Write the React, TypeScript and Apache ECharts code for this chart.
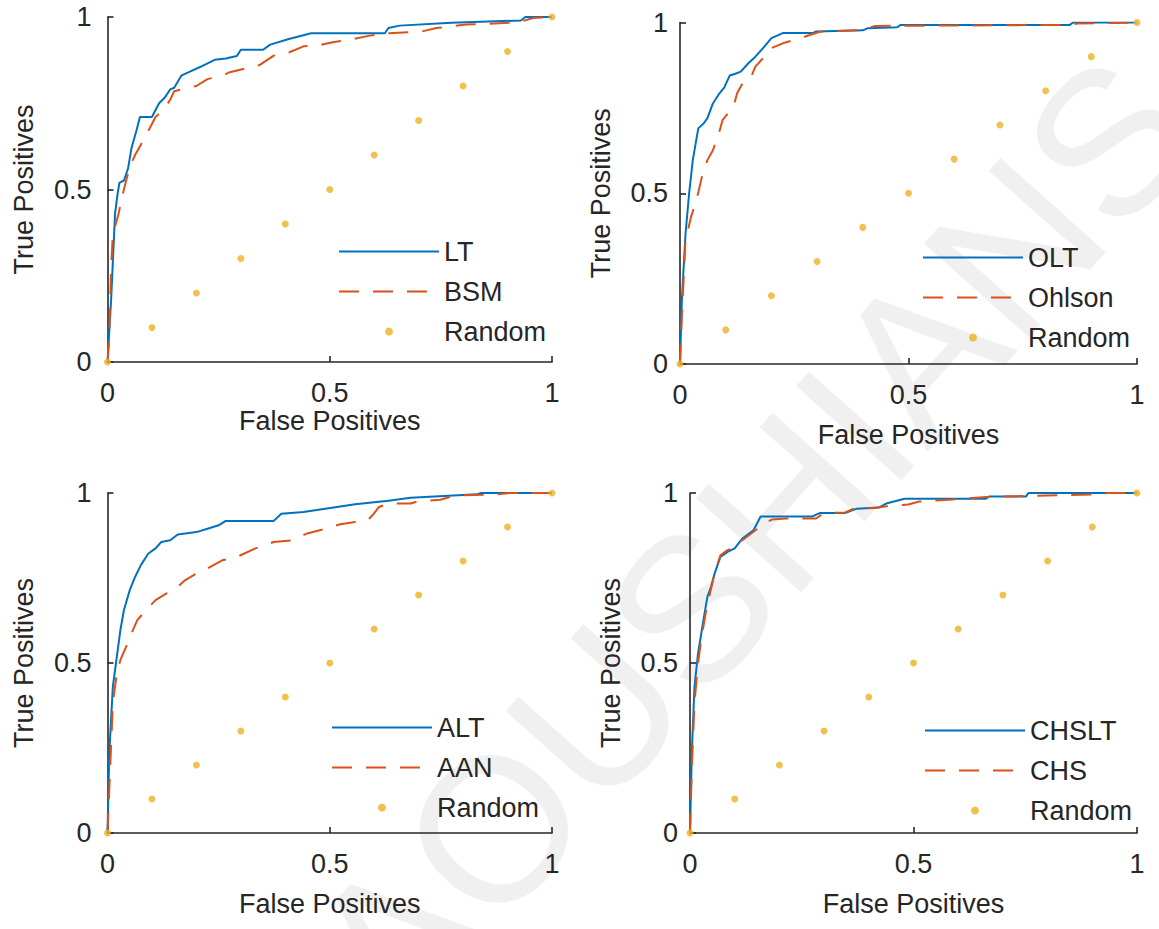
import React, { useEffect, useRef } from "react";
import * as echarts from "echarts";

// ---------- data ----------
const axisTicks = [0, 0.5, 1];
const xAxisTitle = "False Positives";
const yAxisTitle = "True Positives";
const watermarkText = "AOUSHIANS";

const randomPoints: [number, number][] = [
  [0, 0], [0.1, 0.1], [0.2, 0.2], [0.3, 0.3], [0.4, 0.4], [0.5, 0.5],
  [0.6, 0.6], [0.7, 0.7], [0.8, 0.8], [0.9, 0.9], [1, 1],
];

const ltCurve: [number, number][] = [
  [0, 0], [0.008, 0.177], [0.017, 0.43], [0.023, 0.49], [0.027, 0.52], [0.037, 0.526],
  [0.046, 0.56], [0.054, 0.62], [0.065, 0.67], [0.073, 0.71], [0.1, 0.71], [0.116, 0.75],
  [0.128, 0.765], [0.141, 0.79], [0.15, 0.795], [0.166, 0.83], [0.183, 0.84], [0.208, 0.855],
  [0.241, 0.876], [0.266, 0.88], [0.291, 0.887], [0.3, 0.905], [0.35, 0.905], [0.366, 0.92],
  [0.408, 0.936], [0.458, 0.953], [0.624, 0.953], [0.632, 0.968], [0.657, 0.975],
  [0.774, 0.983], [0.93, 0.99], [0.94, 1], [1, 1],
];
const bsmCurve: [number, number][] = [
  [0, 0], [0.004, 0.07], [0.008, 0.27], [0.012, 0.37], [0.025, 0.43], [0.033, 0.48],
  [0.042, 0.526], [0.05, 0.565], [0.062, 0.6], [0.075, 0.63], [0.092, 0.67], [0.108, 0.71],
  [0.125, 0.73], [0.141, 0.76], [0.15, 0.785], [0.166, 0.79], [0.2, 0.8], [0.225, 0.82],
  [0.258, 0.83], [0.275, 0.84], [0.308, 0.85], [0.341, 0.86], [0.374, 0.888], [0.408, 0.897],
  [0.441, 0.915], [0.483, 0.92], [0.507, 0.927], [0.549, 0.935], [0.59, 0.946], [0.632, 0.953],
  [0.707, 0.958], [0.74, 0.968], [0.807, 0.978], [0.923, 0.984], [0.957, 0.997], [1, 1],
];

const oltCurve: [number, number][] = [
  [0, 0], [0.004, 0.186], [0.012, 0.38], [0.02, 0.5], [0.028, 0.597], [0.04, 0.69],
  [0.052, 0.705], [0.06, 0.72], [0.072, 0.763], [0.085, 0.79], [0.097, 0.81], [0.109, 0.845],
  [0.121, 0.85], [0.133, 0.856], [0.149, 0.88], [0.165, 0.9], [0.185, 0.93], [0.2, 0.954],
  [0.225, 0.969], [0.29, 0.969], [0.298, 0.974], [0.4, 0.977], [0.41, 0.983], [0.475, 0.986],
  [0.483, 0.993], [0.853, 0.993], [0.86, 1], [1, 1],
];
const ohlsonCurve: [number, number][] = [
  [0, 0], [0.004, 0.137], [0.012, 0.362], [0.024, 0.43], [0.036, 0.48], [0.048, 0.548],
  [0.06, 0.597], [0.072, 0.626], [0.085, 0.675], [0.093, 0.714], [0.105, 0.734], [0.117, 0.753],
  [0.125, 0.793], [0.137, 0.822], [0.153, 0.832], [0.165, 0.871], [0.185, 0.9], [0.2, 0.925],
  [0.225, 0.939], [0.25, 0.949], [0.274, 0.959], [0.306, 0.973], [0.394, 0.978], [0.427, 0.99],
  [0.845, 0.993], [0.87, 0.997], [1, 1],
];

const altCurve: [number, number][] = [
  [0, 0], [0.004, 0.235], [0.012, 0.43], [0.021, 0.519], [0.029, 0.597], [0.037, 0.656],
  [0.05, 0.714], [0.062, 0.753], [0.075, 0.788], [0.092, 0.822], [0.108, 0.837], [0.121, 0.856],
  [0.141, 0.861], [0.158, 0.878], [0.2, 0.885], [0.225, 0.895], [0.25, 0.905], [0.266, 0.918],
  [0.374, 0.918], [0.391, 0.939], [0.441, 0.944], [0.49, 0.954], [0.557, 0.967], [0.632, 0.977],
  [0.682, 0.986], [0.832, 0.996], [0.84, 1], [1, 1],
];
const aanCurve: [number, number][] = [
  [0, 0], [0.004, 0.127], [0.012, 0.382], [0.021, 0.47], [0.029, 0.509], [0.042, 0.548],
  [0.054, 0.587], [0.067, 0.626], [0.087, 0.656], [0.108, 0.685], [0.133, 0.705], [0.158, 0.724],
  [0.175, 0.744], [0.2, 0.763], [0.225, 0.778], [0.258, 0.802], [0.291, 0.812], [0.333, 0.837],
  [0.374, 0.856], [0.416, 0.861], [0.449, 0.881], [0.49, 0.895], [0.524, 0.908], [0.557, 0.915],
  [0.586, 0.92], [0.599, 0.939], [0.611, 0.959], [0.632, 0.969], [0.682, 0.969], [0.699, 0.976],
  [0.749, 0.98], [0.782, 0.993], [0.874, 0.996], [0.907, 1], [1, 1],
];

const chsltCurve: [number, number][] = [
  [0, 0], [0.004, 0.235], [0.01, 0.43], [0.018, 0.528], [0.03, 0.626], [0.039, 0.695],
  [0.047, 0.724], [0.055, 0.763], [0.068, 0.812], [0.084, 0.827], [0.1, 0.837], [0.117, 0.866],
  [0.142, 0.89], [0.158, 0.931], [0.274, 0.931], [0.29, 0.941], [0.347, 0.941], [0.373, 0.954],
  [0.422, 0.957], [0.439, 0.969], [0.48, 0.983], [0.662, 0.983], [0.67, 0.99], [0.752, 0.99],
  [0.757, 1], [1, 1],
];
const chsCurve: [number, number][] = [
  [0, 0], [0.004, 0.186], [0.01, 0.382], [0.018, 0.5], [0.026, 0.577], [0.035, 0.646],
  [0.043, 0.695], [0.055, 0.763], [0.068, 0.817], [0.084, 0.832], [0.1, 0.841], [0.117, 0.861],
  [0.142, 0.886], [0.167, 0.91], [0.183, 0.922], [0.216, 0.925], [0.282, 0.925], [0.3, 0.941],
  [0.347, 0.943], [0.365, 0.953], [0.414, 0.956], [0.439, 0.961], [0.488, 0.966], [0.513, 0.975],
  [0.579, 0.98], [0.662, 0.988], [0.777, 0.992], [0.909, 0.996], [0.934, 1], [1, 1],
];

const panelModels = ["LT", "OLT", "ALT", "CHSLT"];
const panelBenchmarks = ["BSM", "Ohlson", "AAN", "CHS"];
const modelCurves = [ltCurve, oltCurve, altCurve, chsltCurve];
const benchmarkCurves = [bsmCurve, ohlsonCurve, aanCurve, chsCurve];
const randomName = "Random";

// ---------- layout & style ----------
const FONT = "'Liberation Sans', Arial, Helvetica, sans-serif";
const TEXT = "#262626";
const BLUE = "#0072BD";
const ORANGE = "#D95319";
const YELLOW = "#EDB120";

const layouts = [
  { grid: { left: 107.5, top: 17, width: 444.5, height: 345 }, xGap: 45, yGap: 70, yMargin: 16, legend: { left: 338, top: 238 } },
  { grid: { left: 680, top: 22.5, width: 457, height: 341.5 }, xGap: 57, yGap: 66, yMargin: 12, legend: { left: 922, top: 244 } },
  { grid: { left: 107.5, top: 493, width: 444.5, height: 340 }, xGap: 57, yGap: 70, yMargin: 16, legend: { left: 331, top: 714 } },
  { grid: { left: 690, top: 493, width: 447, height: 340 }, xGap: 57, yGap: 66, yMargin: 12, legend: { left: 924, top: 717 } },
];

function buildOption() {
  const axisCommon = {
    type: "value",
    min: axisTicks[0],
    max: axisTicks[axisTicks.length - 1],
    interval: axisTicks[1] - axisTicks[0],
    splitLine: { show: false },
    axisLine: { show: true, lineStyle: { color: TEXT, width: 1.6 } },
    axisTick: { show: true, inside: true, length: 6, lineStyle: { color: TEXT, width: 1.6 } },
    nameLocation: "middle",
    nameTextStyle: { fontFamily: FONT, fontSize: 27, color: TEXT },
  };
  const grid = layouts.map((l) => ({ ...l.grid, containLabel: false }));
  const xAxis = layouts.map((l, i) => ({
    ...axisCommon,
    gridIndex: i,
    name: xAxisTitle,
    nameGap: l.xGap,
    axisLabel: { fontFamily: FONT, fontSize: 27, color: TEXT, margin: 17 },
  }));
  const yAxis = layouts.map((l, i) => ({
    ...axisCommon,
    gridIndex: i,
    name: yAxisTitle,
    nameGap: l.yGap,
    axisLabel: { fontFamily: FONT, fontSize: 27, color: TEXT, margin: l.yMargin },
  }));
  const series: any[] = [];
  panelModels.forEach((m, i) => {
    series.push({
      name: m, type: "line", xAxisIndex: i, yAxisIndex: i, data: modelCurves[i],
      symbol: "none", showSymbol: false, z: 2,
      lineStyle: { color: BLUE, width: 2 }, itemStyle: { color: BLUE },
    });
    series.push({
      name: panelBenchmarks[i], type: "line", xAxisIndex: i, yAxisIndex: i, data: benchmarkCurves[i],
      symbol: "none", showSymbol: false, z: 3,
      lineStyle: { color: ORANGE, width: 2, type: [20, 14] }, itemStyle: { color: ORANGE },
    });
    series.push({
      name: randomName, type: "scatter", xAxisIndex: i, yAxisIndex: i, data: randomPoints,
      symbol: "circle", symbolSize: 7, z: 4, itemStyle: { color: YELLOW },
    });
  });
  const legend = layouts.map((l, i) => ({
    orient: "vertical",
    left: l.legend.left,
    top: l.legend.top,
    padding: 0,
    itemWidth: 100,
    itemHeight: 8,
    itemGap: 13,
    selectedMode: false,
    textStyle: { fontFamily: FONT, fontSize: 27, color: TEXT },
    data: [
      { name: panelModels[i], itemStyle: { opacity: 0 } },
      { name: panelBenchmarks[i], itemStyle: { opacity: 0 } },
      { name: randomName },
    ],
  }));
  return {
    animation: false,
    backgroundColor: "#ffffff",
    graphic: [
      {
        type: "text",
        x: 752,
        y: 540,
        rotation: 0.84,
        z: 0,
        silent: true,
        style: {
          text: watermarkText,
          fontSize: 205,
          fontFamily: FONT,
          fill: "#f0f0f0",
          align: "center",
          verticalAlign: "middle",
        },
      },
    ],
    grid,
    xAxis,
    yAxis,
    legend,
    series,
  };
}

export default function App() {
  const ref = useRef<HTMLDivElement>(null);
  useEffect(() => {
    if (!ref.current) return;
    const chart = echarts.init(ref.current, null, { renderer: "svg" });
    chart.setOption(buildOption() as any);
    return () => chart.dispose();
  }, []);
  return (
    <div
      ref={ref}
      style={{ position: "fixed", left: 0, top: 0, width: 1159, height: 929, background: "#fff" }}
    />
  );
}
